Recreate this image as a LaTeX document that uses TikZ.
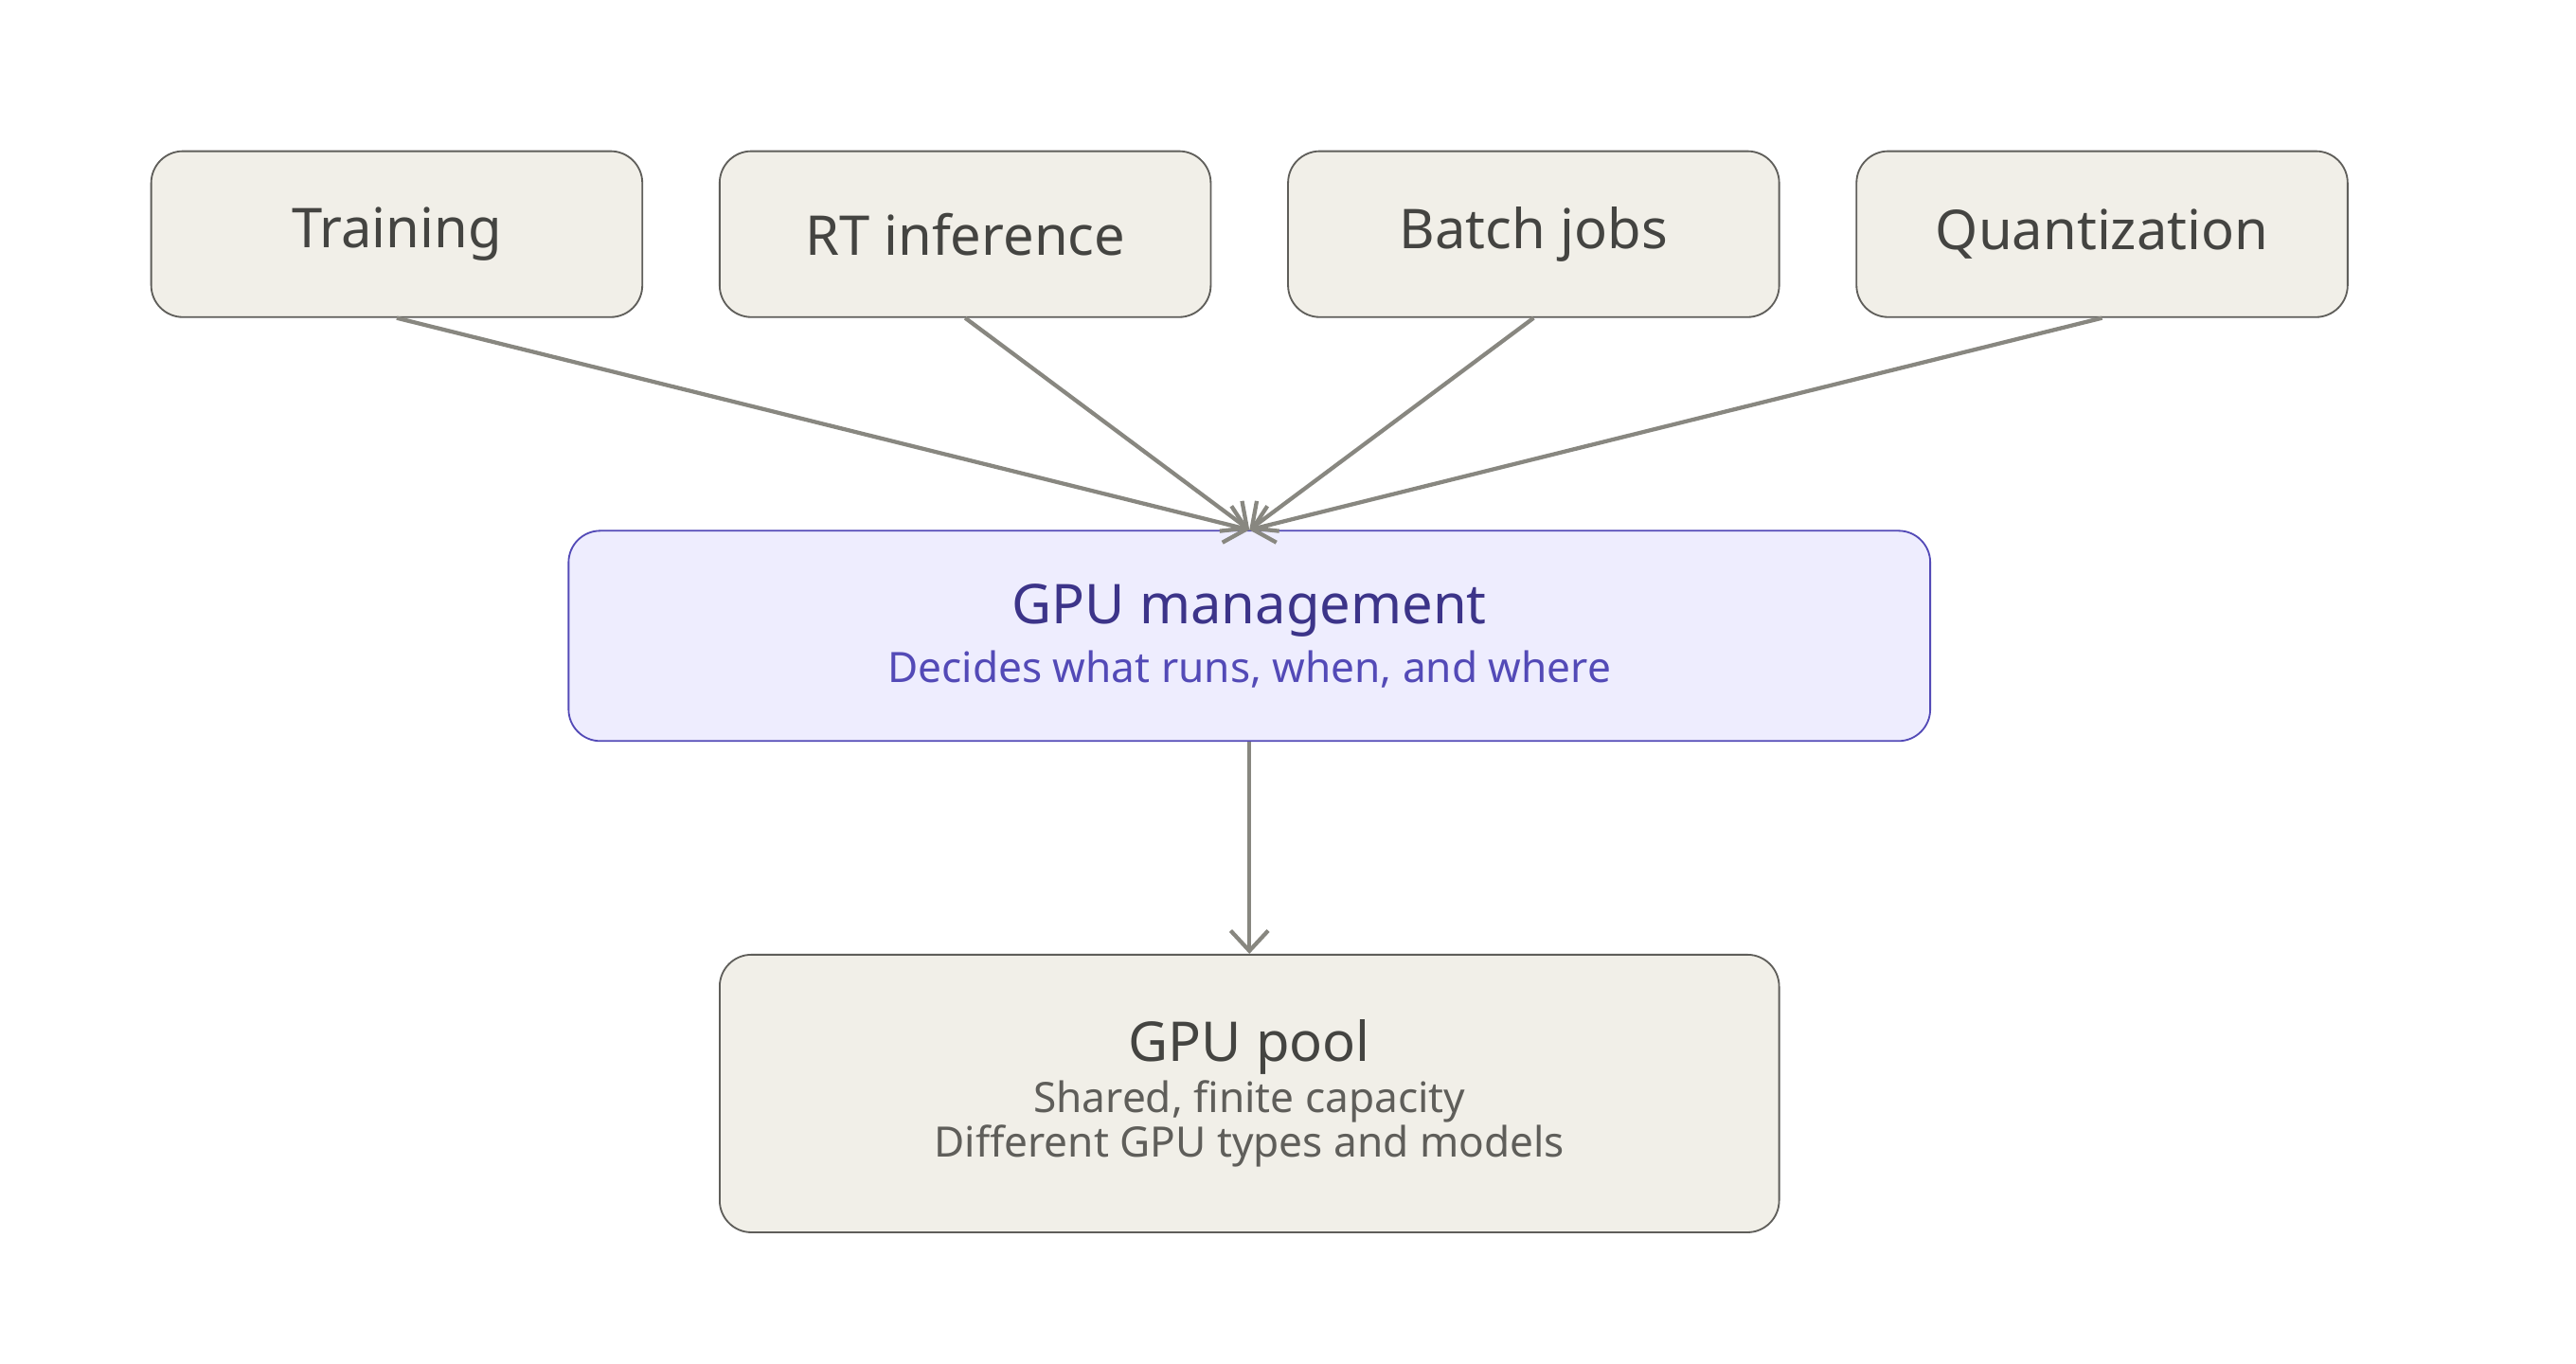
\documentclass[tikz,border=0pt]{standalone}
\usepackage{fontspec}
\setmainfont{Noto Sans}
\usetikzlibrary{positioning, arrows.meta}
\definecolor{boxfill}{HTML}{F1EFE8}
\definecolor{boxline}{HTML}{5F5E5A}
\definecolor{mgfill}{HTML}{EEEDFE}
\definecolor{mgline}{HTML}{534AB7}
\definecolor{mgtitle}{HTML}{3C3489}
\definecolor{arrowc}{HTML}{888780}
\definecolor{textc}{HTML}{444441}
\definecolor{subc}{HTML}{5F5E5A}
\newcommand{\titlefont}{\fontsize{19}{23}\selectfont\bfseries}
\newcommand{\subfont}{\fontsize{14.5}{21.5}\selectfont\mdseries}
\tikzset{
  x=0.02cm, y=-0.02cm,
  >={Straight Barb[length=7pt,width=13pt]},
  task/.style={draw=boxline, fill=boxfill, rounded corners=11pt, line width=0.6pt,
    minimum width=5.98cm, minimum height=2.02cm, text=textc, font=\titlefont},
  link/.style={->, draw=arrowc, line width=1.4pt},
}

\begin{document}
\begin{tikzpicture}
        \useasboundingbox (0,0) rectangle (1568,830);
        % tasks
        \node[task] (train) at (241.5,142.5) {Training};
        \node[task] (rt) at (587.5,142.5) {RT inference};
        \node[task] (batch) at (933.5,142.5) {Batch jobs};
        \node[task] (quant) at (1279.5,142.5) {Quantization};

        % management and pool
        \node[draw=mgline, fill=mgfill, rounded corners=11pt, line width=0.6pt,
              minimum width=16.58cm, minimum height=2.56cm, align=center] (mgmt) at (760.5,387)
              {\titlefont\color{mgtitle}GPU management\\[4pt]
               \subfont\color{mgline}Decides what runs, when, and where};
        \node[draw=boxline, fill=boxfill, rounded corners=11pt, line width=0.6pt,
              minimum width=12.9cm, minimum height=3.38cm, align=center] (pool) at (760.5,665.5)
              {\titlefont\color{textc}GPU pool\\[1pt]
               \subfont\color{subc}Shared, finite capacity\\
               \subfont\color{subc}Different GPU types and models};

        % links
        \foreach \t in {train, rt, batch, quant}
          \draw[link] (\t.south) -- (mgmt.north);
        \draw[link] (mgmt.south) -- (pool.north);
\end{tikzpicture}
\end{document}
